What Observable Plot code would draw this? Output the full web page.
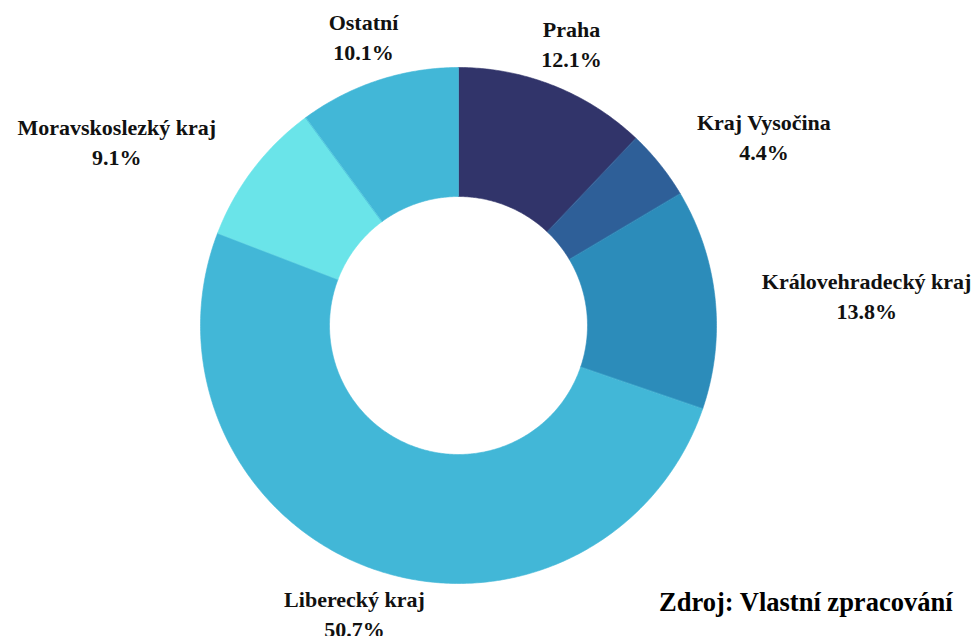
<!DOCTYPE html>
<html>
<head>
<meta charset="utf-8">
<script src="https://cdn.jsdelivr.net/npm/d3@7"></script>
<script src="https://cdn.jsdelivr.net/npm/@observablehq/plot@0.6"></script>
<style>
  html, body { margin: 0; padding: 0; background: #fff; }
  #chart svg { display: block; }
  #chart svg text { font-family: "Liberation Serif", "Times New Roman", serif; }
</style>
</head>
<body>
<div id="chart"></div>
<script>
// ---- data ----
const categories = ["Praha", "Kraj Vysočina", "Královehradecký kraj", "Liberecký kraj", "Moravskoslezký kraj", "Ostatní"];
const shares = [12.1, 4.4, 13.8, 50.7, 9.1, 10.1];
const colors = ["#31346a", "#2e5f98", "#2c8cba", "#42b7d7", "#6ae4e9", "#42b7d7"];
const caption = "Zdroj: Vlastní zpracování";

// ---- layout ----
const W = 975, H = 636;
const cx = 458, cy = 325, Rpx = 258;       // centre and outer radius in pixels
const inner = 0.5, outer = 1, labelR = 305 / Rpx;
const fontFamily = "Liberation Serif";
const fontSize = 22;

const total = d3.sum(shares);
let acc = 0;
const slices = categories.map((name, i) => {
  const a0 = acc / total * 2 * Math.PI;
  acc += shares[i];
  const a1 = acc / total * 2 * Math.PI;
  return {name, value: shares[i], color: colors[i], a0, a1, mid: (a0 + a1) / 2};
});

// ring sector outlines (angles measured clockwise from top)
const pts = [];
for (const s of slices) {
  const n = Math.max(8, Math.ceil((s.a1 - s.a0) / 0.01));
  for (let k = 0; k <= n; k++) {
    const a = s.a0 + (s.a1 - s.a0) * k / n;
    pts.push({key: s.name, color: s.color, x: outer * Math.sin(a), y: outer * Math.cos(a)});
  }
  for (let k = n; k >= 0; k--) {
    const a = s.a0 + (s.a1 - s.a0) * k / n;
    pts.push({key: s.name, color: s.color, x: inner * Math.sin(a), y: inner * Math.cos(a)});
  }
}

// labels: block anchored at label radius, start/end/middle by side, lines centred
const ctx = document.createElement("canvas").getContext("2d");
ctx.font = `bold ${fontSize}px "Liberation Serif"`;
const labels = slices.map(s => {
  const pct = s.value.toFixed(1) + "%";
  const w = Math.max(ctx.measureText(s.name).width, ctx.measureText(pct).width) / Rpx;
  const sx = Math.sin(s.mid), cyy = Math.cos(s.mid);
  let x = labelR * sx;
  if (sx > 0.5) x += w / 2; else if (sx < -0.5) x -= w / 2;
  return {text: s.name + "\n" + pct, x, y: labelR * cyy};
});

const chart = Plot.plot({
  width: W,
  height: H,
  margin: 0,
  x: {domain: [-cx / Rpx, (W - cx) / Rpx], axis: null},
  y: {domain: [-(H - cy) / Rpx, cy / Rpx], axis: null},
  marks: [
    Plot.line(pts, {x: "x", y: "y", z: "key", fill: "color", stroke: "color", strokeWidth: 0.6, curve: "linear-closed"}),
    Plot.text(labels, {x: "x", y: "y", text: "text", fontFamily, fontSize, fontWeight: "bold", fill: "#111", lineHeight: 1.36, textAnchor: "middle"}),
    Plot.text([caption], {frameAnchor: "bottom-right", dx: -23, dy: -26, fontFamily, fontSize: 26.5, fontWeight: "bold", fill: "#000", textAnchor: "end", lineAnchor: "bottom"})
  ]
});
document.getElementById("chart").appendChild(chart);
</script>
</body>
</html>
